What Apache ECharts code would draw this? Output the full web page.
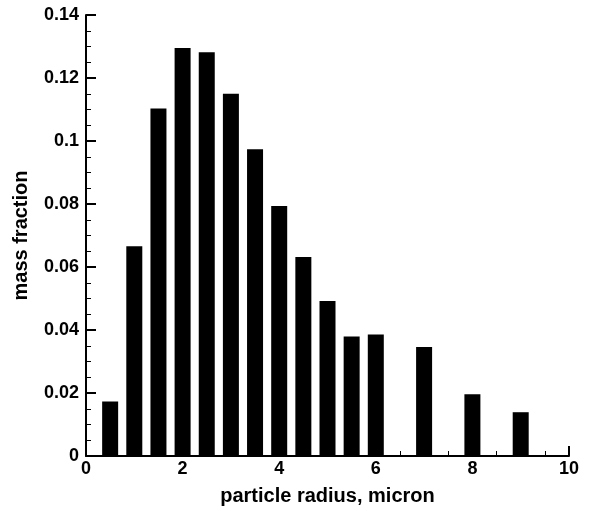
<!DOCTYPE html>
<html>
<head>
<meta charset="utf-8">
<script src="https://cdn.jsdelivr.net/npm/echarts@6/dist/echarts.min.js"></script>
<style>
  html, body { margin: 0; padding: 0; background: #fff; }
  #chart { width: 589px; height: 511px; }
</style>
</head>
<body>
<div id="chart"></div>
<script>
// particle radius (micron) of each bin
var radius = [0.5, 1, 1.5, 2, 2.5, 3, 3.5, 4, 4.5, 5, 5.5, 6, 7, 8, 9];
// mass fraction per bin
var massFraction = [0.0173, 0.0666, 0.1103, 0.1295, 0.1282, 0.1150, 0.0974, 0.0794,
                    0.0632, 0.0492, 0.0379, 0.0386, 0.0346, 0.0196, 0.0139];

var chart = echarts.init(document.getElementById('chart'));

var fontFam = '"Liberation Sans", Arial, Helvetica, sans-serif';

var option = {
    animation: false,
    grid: {
        left: 86,
        right: 20,
        top: 15,
        bottom: 55
    },
    xAxis: {
        type: 'value',
        min: 0,
        max: 10,
        interval: 2,
        name: 'particle radius, micron',
        nameLocation: 'middle',
        nameGap: 30,
        nameTextStyle: { color: '#000', fontSize: 20, fontWeight: 'bold', fontFamily: fontFam },
        axisLine: { show: true, lineStyle: { color: '#000', width: 2 } },
        axisTick: { show: true, inside: true, length: 10, lineStyle: { color: '#000', width: 2 } },
        minorTick: { show: true, splitNumber: 4, length: 5, lineStyle: { color: '#000', width: 1 } },
        axisLabel: { color: '#000', fontSize: 18, fontWeight: 'bold', fontFamily: fontFam, margin: 4 },
        splitLine: { show: false }
    },
    yAxis: {
        type: 'value',
        min: 0,
        max: 0.14,
        interval: 0.02,
        name: 'mass fraction',
        nameLocation: 'middle',
        nameGap: 55,
        nameTextStyle: { color: '#000', fontSize: 20, fontWeight: 'bold', fontFamily: fontFam },
        axisLine: { show: true, lineStyle: { color: '#000', width: 2 } },
        axisTick: { show: true, inside: true, length: 10, lineStyle: { color: '#000', width: 2 } },
        minorTick: { show: true, splitNumber: 4, length: 5, lineStyle: { color: '#000', width: 1 } },
        axisLabel: { color: '#000', fontSize: 18, fontWeight: 'bold', fontFamily: fontFam, margin: 7 },
        splitLine: { show: false }
    },
    series: [{
        type: 'bar',
        barWidth: 16,
        itemStyle: { color: '#000' },
        data: radius.map(function (r, i) { return [r, massFraction[i]]; })
    }]
};

chart.setOption(option);
</script>
</body>
</html>
